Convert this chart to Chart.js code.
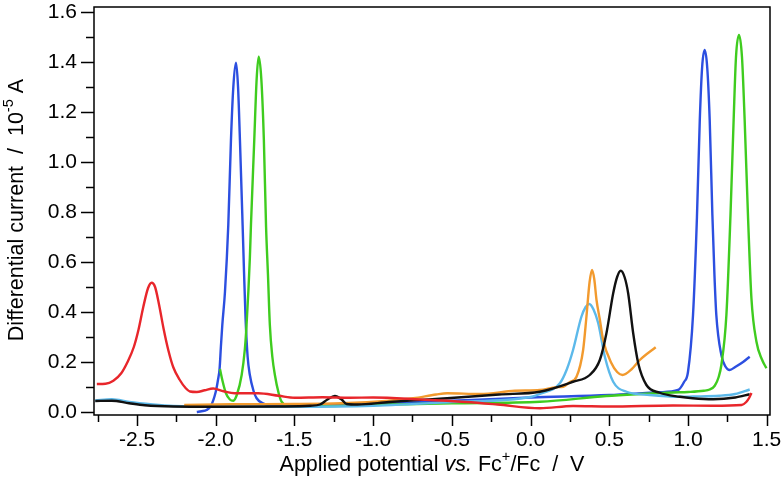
<!DOCTYPE html>
<html>
<head>
<meta charset="utf-8">
<script src="https://cdn.jsdelivr.net/npm/chart.js@4.4.0/dist/chart.umd.min.js"></script>
<style>
  html, body { margin: 0; padding: 0; background: #fff; }
  canvas { display: block; }
</style>
</head>
<body>
<canvas id="dpvChart" width="784" height="482"></canvas>
<script>
// potentials (V vs Fc+/Fc) and differential currents (10^-5 A)
const redV = [-2.755, -2.70, -2.65, -2.60, -2.56, -2.52, -2.49, -2.46, -2.43, -2.407, -2.385, -2.36, -2.33, -2.30, -2.27, -2.23, -2.19, -2.163, -2.12, -2.07, -2.016, -1.95, -1.88, -1.73, -1.60, -1.497, -1.32, -1.148, -1.0, -0.7, -0.41, -0.21, 0.06, 0.27, 0.5, 0.905, 1.16, 1.34, 1.37, 1.39, 1.403];
const redI = [0.112, 0.113, 0.125, 0.155, 0.20, 0.26, 0.33, 0.42, 0.495, 0.517, 0.50, 0.43, 0.33, 0.245, 0.18, 0.13, 0.095, 0.082, 0.08, 0.087, 0.094, 0.083, 0.075, 0.075, 0.065, 0.057, 0.059, 0.057, 0.058, 0.05, 0.04, 0.03, 0.015, 0.024, 0.022, 0.026, 0.025, 0.028, 0.04, 0.058, 0.076];

const blueV = [-2.12, -2.09, -2.058, -2.03, -2.0, -1.985, -1.975, -1.967, -1.958, -1.941, -1.92, -1.903, -1.888, -1.871, -1.858, -1.846, -1.829, -1.82, -1.81, -1.797, -1.783, -1.76, -1.74, -1.70, -1.666, -1.5, -1.2, -1.0, -0.5, 0.0, 0.5, 0.82, 0.937, 0.975, 1.0, 1.032, 1.057, 1.075, 1.09, 1.106, 1.122, 1.138, 1.155, 1.168, 1.18, 1.212, 1.24, 1.265, 1.30, 1.35, 1.392];
const blueI = [0.0, 0.003, 0.008, 0.025, 0.08, 0.13, 0.175, 0.261, 0.348, 0.481, 0.748, 1.088, 1.30, 1.397, 1.30, 1.088, 0.748, 0.56, 0.37, 0.22, 0.148, 0.085, 0.055, 0.035, 0.028, 0.024, 0.028, 0.032, 0.045, 0.058, 0.068, 0.079, 0.088, 0.12, 0.16, 0.388, 0.78, 1.168, 1.38, 1.448, 1.38, 1.168, 0.788, 0.55, 0.388, 0.228, 0.18, 0.168, 0.18, 0.2, 0.221];

const greenV = [-1.973, -1.955, -1.935, -1.91, -1.888, -1.865, -1.835, -1.815, -1.804, -1.783, -1.776, -1.755, -1.74, -1.727, -1.71, -1.694, -1.68, -1.668, -1.656, -1.64, -1.624, -1.60, -1.581, -1.518, -1.2, -1.0, -0.5, 0.06, 0.48, 0.7, 0.905, 1.0, 1.1, 1.138, 1.17, 1.195, 1.212, 1.244, 1.27, 1.29, 1.305, 1.324, 1.343, 1.36, 1.381, 1.403, 1.435, 1.47, 1.498];
const greenI = [0.172, 0.12, 0.075, 0.05, 0.045, 0.07, 0.148, 0.25, 0.348, 0.616, 0.748, 1.088, 1.33, 1.421, 1.33, 1.088, 0.74, 0.55, 0.348, 0.22, 0.148, 0.075, 0.041, 0.021, 0.025, 0.028, 0.035, 0.041, 0.064, 0.072, 0.078, 0.08, 0.085, 0.09, 0.105, 0.14, 0.188, 0.388, 0.788, 1.168, 1.42, 1.508, 1.42, 1.168, 0.788, 0.455, 0.281, 0.21, 0.175];

const blackV = [-2.765, -2.66, -2.55, -2.45, -2.27, -2.0, -1.6, -1.4, -1.338, -1.29, -1.243, -1.2, -1.169, -1.1, -0.9, -0.53, -0.2, 0.059, 0.27, 0.376, 0.44, 0.482, 0.525, 0.55, 0.573, 0.597, 0.62, 0.652, 0.684, 0.736, 0.82, 0.948, 1.03, 1.16, 1.3, 1.392];
const blackI = [0.044, 0.045, 0.035, 0.027, 0.022, 0.021, 0.022, 0.025, 0.03, 0.05, 0.064, 0.05, 0.032, 0.03, 0.04, 0.055, 0.07, 0.081, 0.121, 0.148, 0.208, 0.315, 0.475, 0.54, 0.565, 0.54, 0.475, 0.315, 0.195, 0.108, 0.077, 0.061, 0.055, 0.051, 0.058, 0.071];

const orangeV = [-2.2, -1.9, -1.5, -1.2, -0.9, -0.745, -0.6, -0.53, -0.32, -0.1, 0.059, 0.165, 0.207, 0.25, 0.292, 0.334, 0.355, 0.375, 0.391, 0.405, 0.419, 0.44, 0.461, 0.514, 0.55, 0.584, 0.64, 0.694, 0.795];
const orangeI = [0.028, 0.031, 0.032, 0.035, 0.045, 0.055, 0.07, 0.075, 0.072, 0.085, 0.088, 0.099, 0.101, 0.12, 0.141, 0.248, 0.381, 0.52, 0.568, 0.53, 0.448, 0.37, 0.288, 0.195, 0.16, 0.148, 0.17, 0.208, 0.259];

const cyanV = [-2.765, -2.66, -2.55, -2.4, -2.27, -2.0, -1.5, -1.0, -0.5, 0.0, 0.059, 0.186, 0.23, 0.27, 0.323, 0.35, 0.373, 0.40, 0.43, 0.472, 0.525, 0.61, 0.757, 0.948, 1.03, 1.2, 1.3, 1.392];
const cyanI = [0.046, 0.051, 0.04, 0.03, 0.024, 0.021, 0.021, 0.025, 0.04, 0.06, 0.072, 0.115, 0.17, 0.248, 0.381, 0.42, 0.432, 0.41, 0.355, 0.221, 0.121, 0.081, 0.068, 0.061, 0.062, 0.065, 0.072, 0.09];

// axis ticks: majors get labels, minors are bare marks
const xTicks = [-2.75, -2.5, -2.25, -2.0, -1.75, -1.5, -1.25, -1.0, -0.75, -0.5, -0.25, 0.0, 0.25, 0.5, 0.75, 1.0, 1.25, 1.5];
const xLabels = ['', '-2.5', '', '-2.0', '', '-1.5', '', '-1.0', '', '-0.5', '', '0.0', '', '0.5', '', '1.0', '', '1.5'];
const yTicks = [0.0, 0.1, 0.2, 0.3, 0.4, 0.5, 0.6, 0.7, 0.8, 0.9, 1.0, 1.1, 1.2, 1.3, 1.4, 1.5, 1.6];
const yLabels = ['0.0', '', '0.2', '', '0.4', '', '0.6', '', '0.8', '', '1.0', '', '1.2', '', '1.4', '', '1.6'];

const FONT = "'Liberation Sans', Arial, sans-serif";

function pts(xs, ys) {
  return xs.map((x, i) => ({ x: x, y: ys[i] }));
}

function series(label, xs, ys, color) {
  return {
    label: label,
    data: pts(xs, ys),
    borderColor: color,
    borderWidth: 2.4,
    pointRadius: 0,
    fill: false,
    cubicInterpolationMode: 'monotone'
  };
}

function drawRich(ctx, parts, cx, cy, size) {
  let total = 0;
  parts.forEach(p => {
    const s = p.sup ? size * 0.68 : size;
    p.font = (p.italic ? 'italic ' : '') + s + 'px ' + FONT;
    ctx.font = p.font;
    p.w = ctx.measureText(p.t).width;
    total += p.w;
  });
  let x = cx - total / 2;
  ctx.textBaseline = 'middle';
  ctx.textAlign = 'left';
  parts.forEach(p => {
    ctx.font = p.font;
    ctx.fillText(p.t, x, p.sup ? cy - size * 0.36 : cy);
    x += p.w;
  });
}

const framePlugin = {
  id: 'frame',
  afterDraw(chart) {
    const ctx = chart.ctx;
    const a = chart.chartArea;
    const xs = chart.scales.x;
    const ys = chart.scales.y;
    ctx.save();
    ctx.strokeStyle = '#000';
    ctx.lineWidth = 1.5;
    ctx.strokeRect(a.left, a.top, a.right - a.left, a.bottom - a.top);
    ctx.beginPath();
    xTicks.forEach((v, i) => {
      const px = Math.round(xs.getPixelForValue(v)) + 0.5;
      const len = xLabels[i] ? 11 : 7;
      ctx.moveTo(px, a.bottom);
      ctx.lineTo(px, a.bottom + len);
    });
    yTicks.forEach((v, i) => {
      const py = Math.round(ys.getPixelForValue(v)) + 0.5;
      const len = yLabels[i] ? 13 : 8;
      ctx.moveTo(a.left, py);
      ctx.lineTo(a.left - len, py);
    });
    ctx.stroke();

    ctx.fillStyle = '#000';
    drawRich(ctx, [
      { t: 'Applied potential ' },
      { t: 'vs.', italic: true },
      { t: ' Fc' },
      { t: '+', sup: true },
      { t: '/Fc  /  V' }
    ], (a.left + a.right) / 2, 465, 21.5);

    ctx.translate(17, 210);
    ctx.rotate(-Math.PI / 2);
    drawRich(ctx, [
      { t: 'Differential current  /  10' },
      { t: '-5', sup: true },
      { t: ' A' }
    ], 0, 0, 21.5);
    ctx.restore();
  }
};

const dpvChart = new Chart(document.getElementById('dpvChart'), {
  type: 'line',
  data: {
    datasets: [
      series('red', redV, redI, '#e8262b'),
      series('black', blackV, blackI, '#111111'),
      series('orange', orangeV, orangeI, '#f29a2e'),
      series('light blue', cyanV, cyanI, '#5cb9ea'),
      series('green', greenV, greenI, '#3fcc1f'),
      series('blue', blueV, blueI, '#2c4fe0')
    ]
  },
  options: {
    responsive: false,
    animation: false,
    layout: { padding: { top: 7, right: 14, left: 0, bottom: 0 } },
    plugins: { legend: { display: false }, tooltip: { enabled: false } },
    scales: {
      x: {
        type: 'linear',
        min: -2.773,
        max: 1.521,
        grid: { display: false, tickLength: 12 },
        border: { display: false },
        afterFit(scale) {
          scale.height = 67;
          scale.paddingLeft = 0;
          scale.paddingRight = 0;
        },
        afterBuildTicks(scale) { scale.ticks = xTicks.map(v => ({ value: v })); },
        ticks: {
          autoSkip: false,
          maxRotation: 0,
          padding: 1,
          color: '#000',
          font: { family: FONT, size: 21 },
          callback: (v, i) => xLabels[i]
        }
      },
      y: {
        type: 'linear',
        min: -0.012,
        max: 1.62,
        grid: { display: false, tickLength: 16 },
        border: { display: false },
        afterFit(scale) {
          scale.width = 94;
          scale.paddingTop = 0;
          scale.paddingBottom = 0;
        },
        afterBuildTicks(scale) { scale.ticks = yTicks.map(v => ({ value: v })); },
        ticks: {
          autoSkip: false,
          padding: 1,
          color: '#000',
          font: { family: FONT, size: 21 },
          callback: (v, i) => yLabels[i]
        }
      }
    }
  },
  plugins: [framePlugin]
});
</script>
</body>
</html>
